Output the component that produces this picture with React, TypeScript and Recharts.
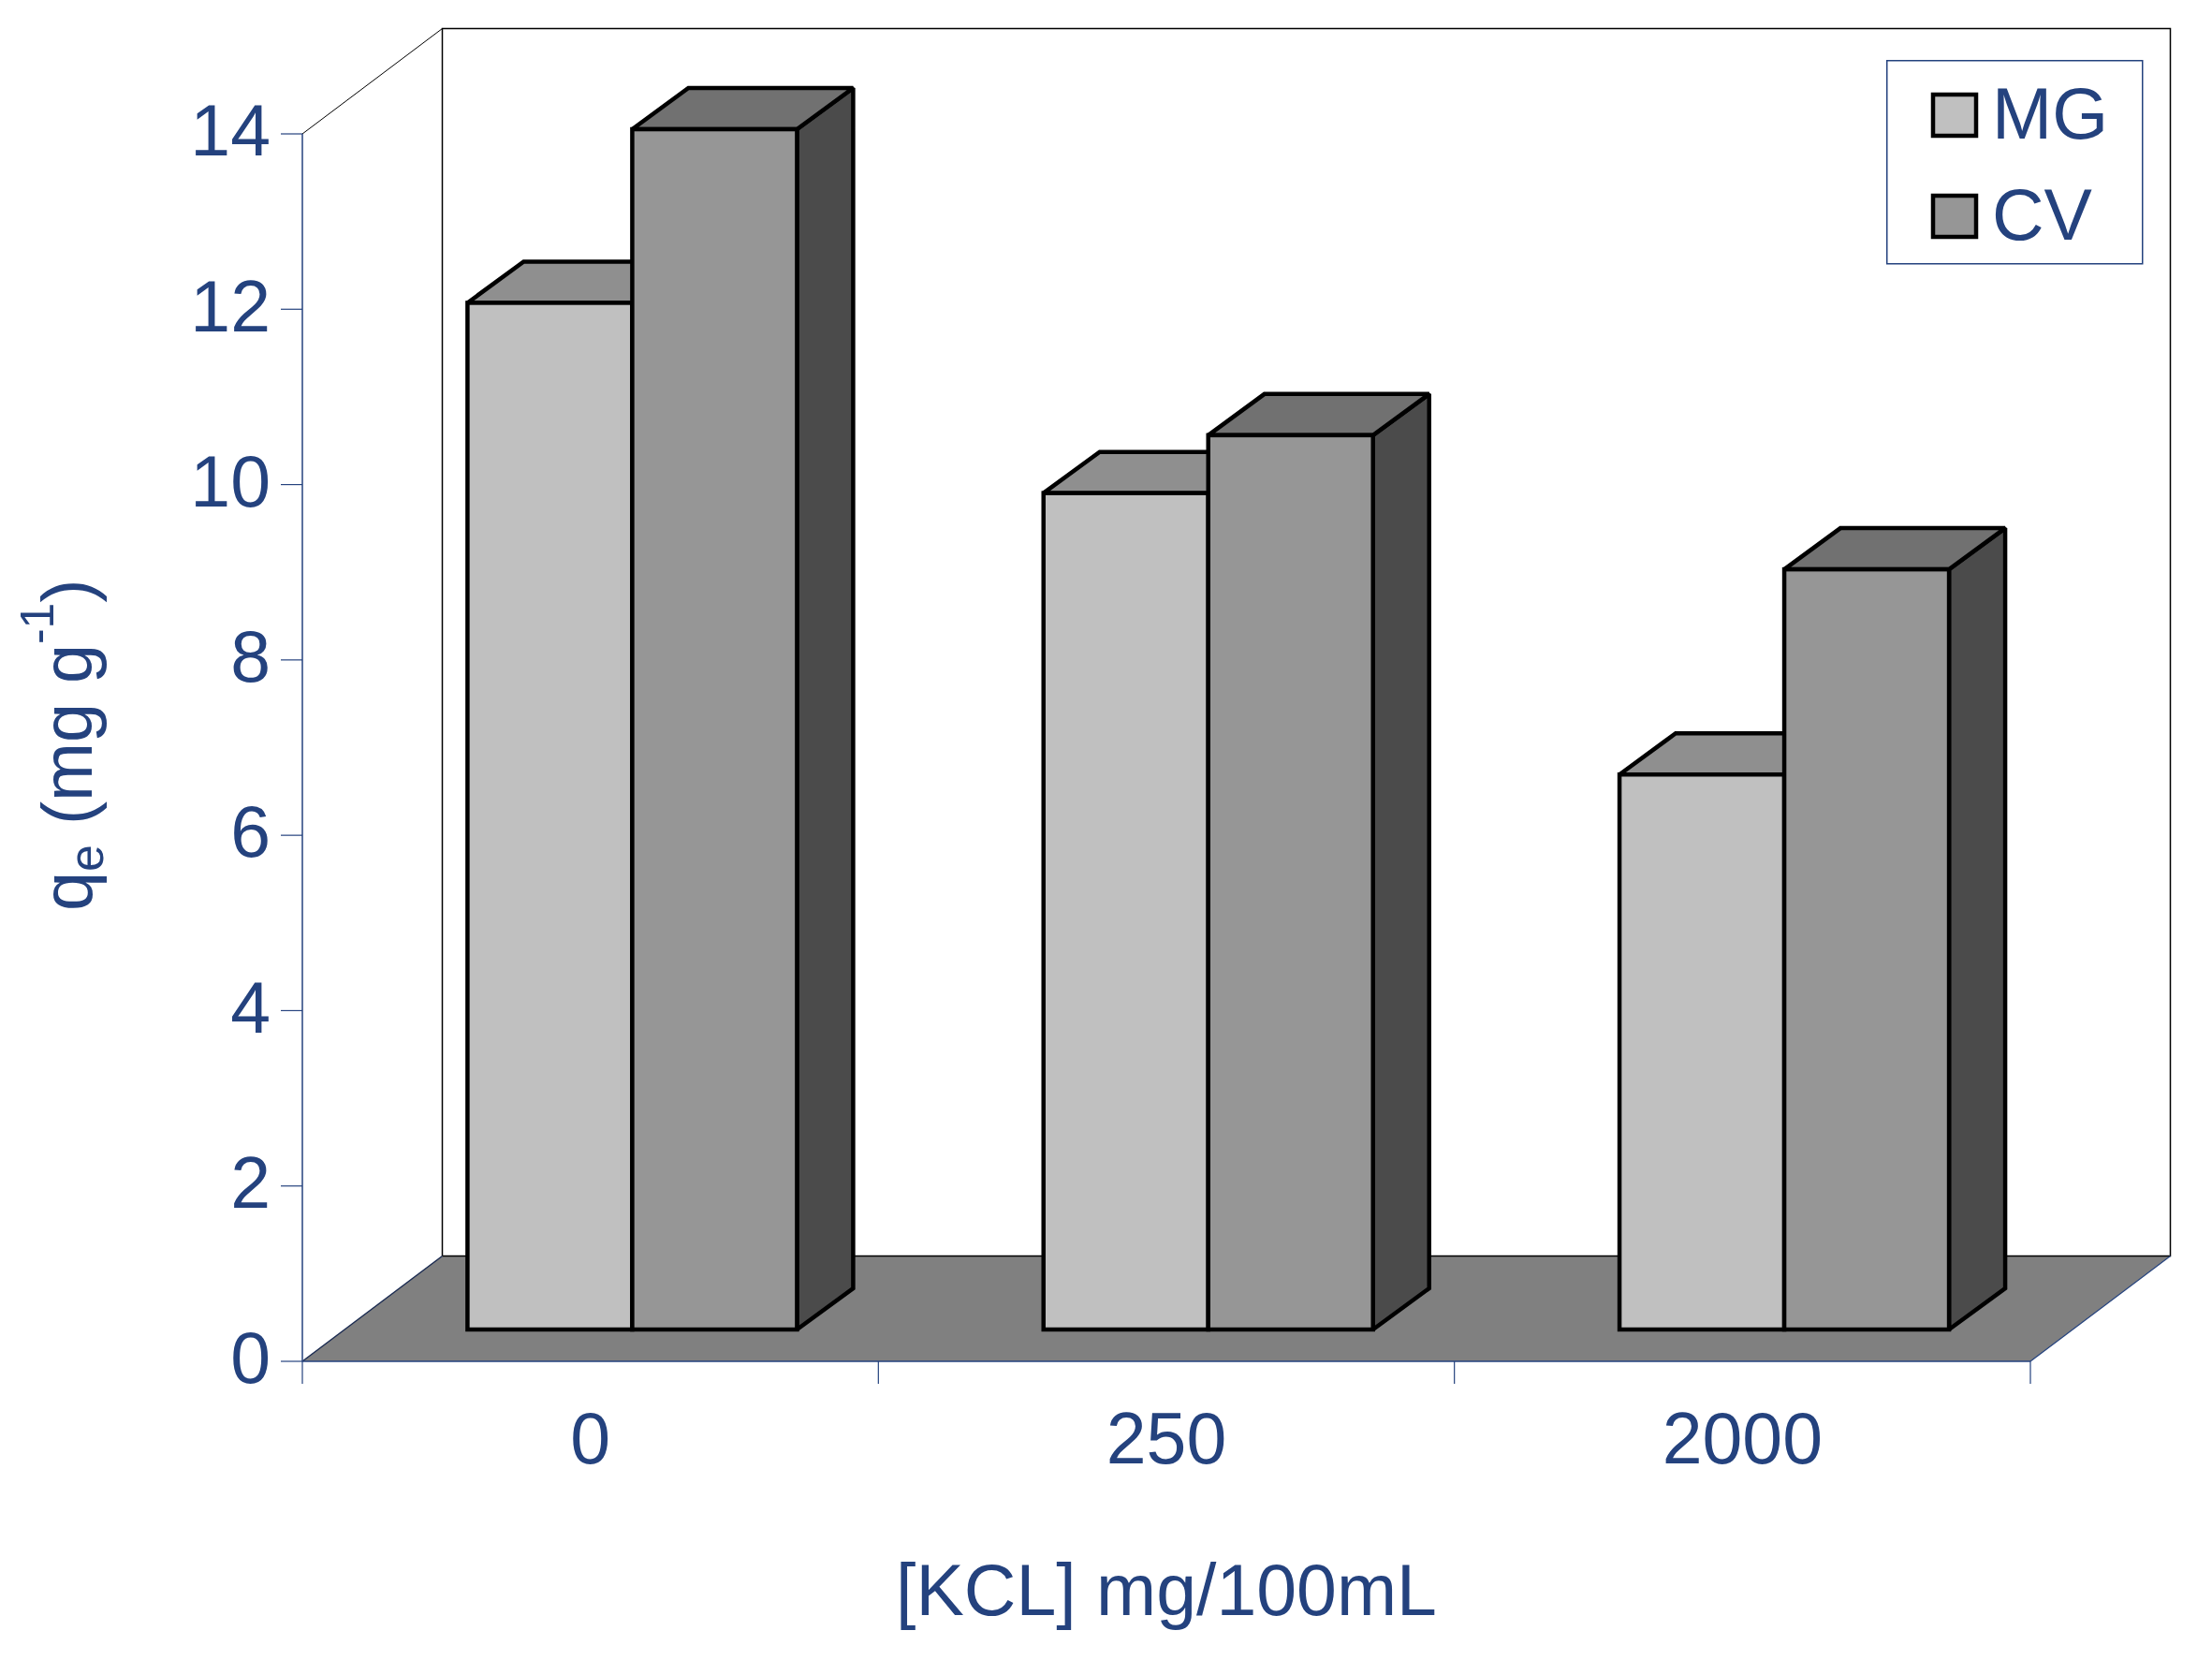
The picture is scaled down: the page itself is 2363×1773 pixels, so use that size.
import React from 'react';
import { BarChart, Bar, XAxis, YAxis, Legend, Customized } from 'recharts';

const categories = ['0', '250', '2000'];
const mgValues = [11.71, 9.54, 6.33];
const cvValues = [13.69, 10.2, 8.67];
const yTicks = [0, 2, 4, 6, 8, 10, 12, 14];

const data = categories.map((kcl, i) => ({ kcl, MG: mgValues[i], CV: cvValues[i] }));

const WIDTH = 2363;
const HEIGHT = 1773;
const PLOT = { left: 323, right: 2169, top: 143, bottom: 1454 };
const BLUE = '#24427E';
const FONT = '"Liberation Sans", Arial, sans-serif';
const FONT_SIZE = 77;

// 3D look: the back wall sits behind the axis plane, bars stand part way in
const WALL_DX = 149.5;
const WALL_DY = 112.5;
const BAR_DX = 44.4;
const BAR_DY = 34;
const BOX_DX = 60;
const BOX_DY = 44;

function Walls() {
  const { left, right, top, bottom } = PLOT;
  const backL = left + WALL_DX;
  const backR = right + WALL_DX;
  const backT = top - WALL_DY;
  const backB = bottom - WALL_DY;
  return (
    <g>
      <polygon points={`${left},${bottom} ${right},${bottom} ${backR},${backB} ${backL},${backB}`} fill="#808080" />
      <path d={`M${backL} ${backB}V${backT}H${backR}V${backB}H${backL}`} fill="none" stroke="#000" strokeWidth={1.5} />
      <line x1={left} y1={top} x2={backL} y2={backT} stroke="#000" strokeWidth={1} />
      <line x1={left} y1={bottom} x2={backL} y2={backB} stroke="#1a2a50" strokeWidth={1.5} />
      <line x1={right} y1={bottom} x2={backR} y2={backB} stroke={BLUE} strokeWidth={1.2} />
    </g>
  );
}

function Box3D(props: any) {
  const { x, y, width, height, fill, topFill, sideFill } = props;
  const fx = x + BAR_DX;
  const fy = y - BAR_DY;
  const fr = fx + width;
  const fb = fy + height;
  return (
    <g stroke="#000" strokeWidth={4.5} strokeLinejoin="miter" strokeMiterlimit={1.6}>
      <polygon points={`${fr},${fy} ${fr + BOX_DX},${fy - BOX_DY} ${fr + BOX_DX},${fb - BOX_DY} ${fr},${fb}`} fill={sideFill} />
      <polygon points={`${fx},${fy} ${fx + BOX_DX},${fy - BOX_DY} ${fr + BOX_DX},${fy - BOX_DY} ${fr},${fy}`} fill={topFill} />
      <rect x={fx} y={fy} width={width} height={height} fill={fill} />
    </g>
  );
}

function XTick(props: any) {
  const { x, payload, index } = props;
  const band = (PLOT.right - PLOT.left) / categories.length;
  const left = x - band / 2;
  return (
    <g>
      <line x1={left} y1={PLOT.bottom} x2={left} y2={PLOT.bottom + 24} stroke={BLUE} strokeWidth={1.2} />
      {index === categories.length - 1 && (
        <line x1={left + band} y1={PLOT.bottom} x2={left + band} y2={PLOT.bottom + 24} stroke={BLUE} strokeWidth={1.2} />
      )}
      <text x={x} y={1563} textAnchor="middle" fontSize={FONT_SIZE} fontFamily={FONT} fill={BLUE}>
        {payload.value}
      </text>
    </g>
  );
}

function YTitle() {
  return (
    <text transform="rotate(-90 98 973)" x={98} y={973} fontSize={75.5} fontFamily={FONT} fill={BLUE}>
      q
      <tspan fontSize={52} dy={12}>e</tspan>
      <tspan dy={-12}> (mg g</tspan>
      <tspan fontSize={50} dy={-41}>-1</tspan>
      <tspan dy={41}>)</tspan>
    </text>
  );
}

function LegendBox({ payload }: any) {
  return (
    <svg width={275} height={219} style={{ display: 'block' }}>
      <rect x={0.75} y={0.75} width={273} height={217} fill="#fff" stroke={BLUE} strokeWidth={1.5} />
      {(payload || []).map((entry: any, i: number) => (
        <g key={entry.value}>
          <rect x={50} y={37 + i * 108} width={46} height={44} fill={entry.color} stroke="#000" strokeWidth={4.5} />
          <text x={113} y={84 + i * 108} fontSize={FONT_SIZE} fontFamily={FONT} fill={BLUE}>
            {entry.value}
          </text>
        </g>
      ))}
    </svg>
  );
}

export default function App() {
  return (
    <div style={{ position: 'absolute', left: 0, top: 0, width: WIDTH, height: HEIGHT, background: '#fff' }}>
      <BarChart
        width={WIDTH}
        height={HEIGHT}
        data={data}
        margin={{ top: PLOT.top, right: WIDTH - PLOT.right, bottom: 0, left: 23 }}
        barSize={176}
        barGap={0}
      >
        <Customized component={Walls} />
        <XAxis
          dataKey="kcl"
          height={HEIGHT - PLOT.bottom}
          axisLine={{ stroke: BLUE, strokeWidth: 1.5 }}
          tickLine={false}
          tick={<XTick />}
          interval={0}
          label={{
            value: '[KCL] mg/100mL',
            position: 'insideBottom',
            offset: 48,
            fill: BLUE,
            fontSize: FONT_SIZE,
            fontFamily: FONT,
          }}
        />
        <YAxis
          width={300}
          domain={[0, 14]}
          ticks={yTicks}
          interval={0}
          axisLine={{ stroke: BLUE, strokeWidth: 1.5 }}
          tickLine={{ stroke: BLUE, strokeWidth: 1.2 }}
          tickSize={23}
          tickMargin={11}
          tick={{ fill: BLUE, fontSize: FONT_SIZE, fontFamily: FONT, dy: -4 }}
          label={{ content: <YTitle /> }}
        />
        <Legend
          layout="horizontal"
          align="center"
          verticalAlign="middle"
          itemSorter={null as any}
          content={<LegendBox />}
          wrapperStyle={{ position: 'absolute', left: 2015, top: 64, width: 275, height: 219, margin: 0 }}
        />
        <Bar
          dataKey="MG"
          fill="#C0C0C0"
          isAnimationActive={false}
          shape={(p: any) => <Box3D {...p} topFill="#8F8F8F" sideFill="#606060" />}
        />
        <Bar
          dataKey="CV"
          fill="#969696"
          isAnimationActive={false}
          shape={(p: any) => <Box3D {...p} topFill="#717171" sideFill="#4B4B4B" />}
        />
      </BarChart>
    </div>
  );
}
